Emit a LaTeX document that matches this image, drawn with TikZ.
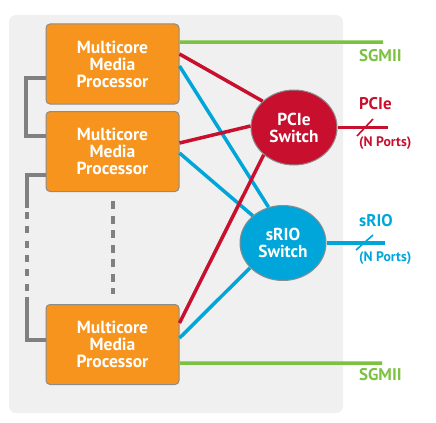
\documentclass[tikz,border=0pt]{standalone}
\usepackage{fontspec}
\setmainfont{PT Sans}
\usetikzlibrary{shapes.geometric,calc}
\definecolor{bgc}{HTML}{F0F0F0}
\definecolor{orng}{HTML}{F7941E}
\definecolor{pred}{HTML}{C8102E}
\definecolor{sblue}{HTML}{00A6DA}
\definecolor{sgreen}{HTML}{7CC142}
\definecolor{gline}{HTML}{808080}
\definecolor{bord}{HTML}{8C8C8C}
\begin{document}
\begin{tikzpicture}[x=1bp,y=1bp,
  proc/.style={draw=bord, line width=1bp, fill=orng, rounded corners=4bp,
    minimum width=133bp, minimum height=80bp, inner sep=0pt, align=center,
    text=white, font=\fontsize{17.6}{17}\selectfont\bfseries},
  sw/.style={ellipse, draw=bord, line width=1bp, minimum width=86bp,
    minimum height=75bp, inner sep=0pt, align=center, text=white,
    font=\fontsize{17.4}{17}\selectfont\bfseries},
  wire/.style={line width=3.5bp},
  gwire/.style={gline, line width=4bp},
  gdash/.style={gline, line width=4bp, dash pattern=on 8bp off 6.5bp},
  lbl/.style={anchor=west, inner sep=0pt, font=\fontsize{17}{17}\selectfont\bfseries},
  sml/.style={anchor=west, inner sep=0pt, font=\fontsize{13.8}{14}\selectfont\bfseries},
  slash/.style={line width=1.6bp}
]
\useasboundingbox (0,0) rectangle (436,422);
\fill[bgc, rounded corners=7bp] (9,9) rectangle (343,407);

\node[proc] (b1) at (112.5,358) {Multicore\\Media\\Processor};
\node[proc] (b2) at (112.5,270.5) {Multicore\\Media\\Processor};
\node[proc] (b3) at (112.5,77.5) {Multicore\\Media\\Processor};

% gray left links
\draw[gwire] ([yshift=-14bp]b1.west) -- ++(-19,0) |- ([yshift=15.5bp]b2.west);
\coordinate (l1) at (27,214);
\coordinate (l2) at (27,210);
\coordinate (l3) at (27,131.5);
\coordinate (l4) at (27,125);
\draw[gwire] ([yshift=-23.5bp]b2.west) -| (l1);
\draw[gwire, dash pattern=on 7bp off 7.3bp] (l2) -- (l3);
\draw[gwire] (l4) |- ([yshift=4.5bp]b3.west);
\draw[gdash, shorten <=9bp, shorten >=10bp] (b2.south) -- (b3.north);

\node[sw, fill=pred] (pcie) at (294,294.5) {PCIe\\Switch};
\node[sw, fill=sblue] (srio) at (283,179) {sRIO\\Switch};

\coordinate (sg1end) at (383,380);
\coordinate (sg2end) at (382,59);
\coordinate (pcieend) at (388,294.5);
\coordinate (srioend) at (385,179);
\coordinate (ps) at (365,294.5);
\coordinate (ss) at (364.5,179.5);

\draw[wire, sgreen] ([yshift=22bp]b1.east) -- (sg1end);
\draw[wire, pred] ([yshift=10bp]b1.east) -- (pcie.140);
\draw[wire, sblue] ([yshift=-2bp]b1.east) -- (srio.112);
\draw[wire, pred] ([yshift=8.5bp]b2.east) -- (pcie.178);
\draw[wire, sblue] ([yshift=-1.5bp]b2.east) -- (srio.138);
\draw[wire, sblue] ([yshift=6.5bp]b3.east) -- (srio.217);
\draw[wire, pred] ([yshift=21.5bp]b3.east) -- (pcie.222);
\draw[wire, sgreen] ([yshift=-18.5bp]b3.east) -- (sg2end);

\draw[wire, pred] (pcie.east) -- (pcieend);
\draw[slash, pred] ($(ps)+(-8,-8.5)$) -- ($(ps)+(8,8.5)$);
\draw[wire, sblue] (srio.east) -- (srioend);
\draw[slash, sblue] ($(ss)+(-8.5,-7.5)$) -- ($(ss)+(8.5,7.5)$);

\node[lbl, text=sgreen] (lsg1) at (359,366) {SGMII};
\node[lbl, text=pred] (lpcie) at (359,318) {PCIe};
\node[sml, text=pred] (lpn) at (359,279) {(N Ports)};
\node[lbl, text=sblue] (lsrio) at (359,201) {sRIO};
\node[sml, text=sblue] (lsn) at (359,164) {(N Ports)};
\node[lbl, text=sgreen] (lsg2) at (359,47) {SGMII};
\end{tikzpicture}
\end{document}
